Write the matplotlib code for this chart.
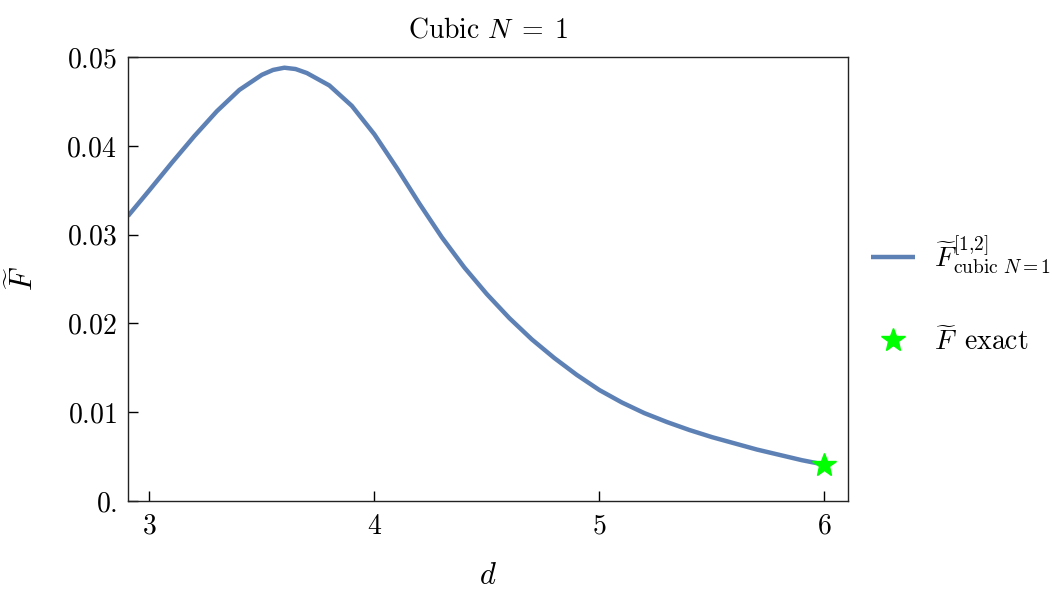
import numpy as np
import matplotlib
matplotlib.use("Agg")
import matplotlib.pyplot as plt

# values
d = [2.905, 3.00, 3.10, 3.20, 3.30, 3.40, 3.50, 3.55, 3.60, 3.65, 3.70, 3.80,
     3.90, 4.00, 4.10, 4.20, 4.30, 4.40, 4.50, 4.60, 4.70, 4.80, 4.90, 5.00,
     5.10, 5.20, 5.30, 5.40, 5.50, 5.60, 5.70, 5.80, 5.90, 6.00]
F = [0.0321, 0.0350, 0.0381, 0.0411, 0.0439, 0.0463, 0.0480, 0.04855, 0.0488,
     0.04865, 0.0482, 0.0468, 0.0445, 0.0413, 0.0375, 0.0335, 0.0297, 0.0263,
     0.0233, 0.0206, 0.0182, 0.0161, 0.0142, 0.0125, 0.0111, 0.0099, 0.0089,
     0.0080, 0.0072, 0.0065, 0.0058, 0.0052, 0.0046, 0.0041]
d_exact = [6.0]
F_exact = [0.0041]

xticks = [3, 4, 5, 6]
yticks = [0.0, 0.01, 0.02, 0.03, 0.04, 0.05]
ytick_labels = ["0.", "0.01", "0.02", "0.03", "0.04", "0.05"]

plt.rcParams["mathtext.fontset"] = "cm"
plt.rcParams["font.family"] = "serif"
plt.rcParams["font.serif"] = ["cmr10"]

fig = plt.figure(figsize=(10.5, 5.9), dpi=100)
ax = fig.add_axes([0.1219, 0.1508, 0.6857, 0.7525])

ax.plot(d, F, color="#5E81B5", lw=3.2, solid_joinstyle="round",
        solid_capstyle="butt",
        label=r"$\widetilde{F}^{[1{,}2]}_{\mathrm{cubic}\ N=1}$")
ax.plot(d_exact, F_exact, ls="none", marker="*", ms=18, color="#00FF00",
        mec="#00FF00", label=r"$\widetilde{F}\ \,\mathrm{exact}$", zorder=3)

ax.set_xlim(2.905, 6.105)
ax.set_ylim(0, 0.05)
ax.set_xticks(xticks)
ax.set_xticklabels([f"${t}$" for t in xticks])
ax.set_yticks(yticks)
ax.set_yticklabels([f"${t}$" for t in ytick_labels])
ax.tick_params(direction="in", length=7, width=1, labelsize=20,
               top=False, right=False, pad=8)
ax.tick_params(axis="x", pad=9)
for s in ax.spines.values():
    s.set_linewidth(1.0)
    s.set_color("#222222")

ax.set_title(r"$\mathrm{Cubic}\ N\;=\;1$", fontsize=20, pad=14)
ax.set_xlabel(r"$d$", fontsize=22, labelpad=16)
ax.set_ylabel(r"$\widetilde{F}$", fontsize=22, labelpad=20)

ax.legend(loc="center left", bbox_to_anchor=(1.005, 0.465), frameon=False,
          fontsize=20, handlelength=1.6, labelspacing=1.85, handletextpad=0.65,
          borderpad=0.2)

fig.savefig("out.png", dpi=100)
